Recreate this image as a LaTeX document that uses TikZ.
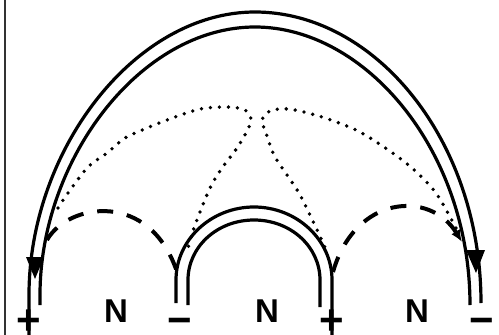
\documentclass[tikz,border=0pt]{standalone}
\usepackage{fontspec}
\setmainfont{Liberation Sans}
\usetikzlibrary{arrows.meta}
\newcommand{\nodepth}[1]{\raisebox{0pt}[\height][0pt]{#1}}
\begin{document}
\begin{tikzpicture}[x=1pt,y=-1pt,
  fieldline/.style={line width=3.2pt},
  dashline/.style={line width=4pt, dash pattern=on 16pt off 14pt},
  dotline/.style={line width=3.8pt, line cap=round, dash pattern=on 0pt off 9pt},
  lbl/.style={font=\fontsize{33}{33}\selectfont\bfseries, inner sep=0pt},
  sign/.style={font=\fontsize{42}{42}\selectfont\bfseries, inner sep=0pt, anchor=base},
  frame/.style={line width=1.5pt, black!80}]
\useasboundingbox (0,0) rectangle (499,335);
% frame fragment at left edge
\draw[frame] (5,0) -- (5,335);
% electrodes
\coordinate (e1) at (29,335);
\coordinate (e3) at (332,335);
% big double arch
\draw[fieldline] (e1) -- (29,295) .. controls (29,150) and (135,12) .. (255,12) .. controls (375,12) and (481,140) .. (481,303);
\draw[fieldline] (40,305) -- (40,295) .. controls (40,160) and (140,27) .. (255,27) .. controls (365,27) and (470,150) .. (470,305);
\fill (26,257) -- (44,257) -- (35,279) -- cycle;
\fill (466,250) -- (485,250) -- (476,273) -- cycle;
% small double arch
\draw[fieldline] (176,303) -- (176,280) .. controls (176,240) and (211,207) .. (254,207) .. controls (297,207) and (332,240) .. (332,280) -- (e3);
\draw[fieldline] (188,305) -- (188,280) .. controls (188,247) and (217,220) .. (254,220) .. controls (291,220) and (320,247) .. (320,280) -- (320,307);
% dashed arcs
\draw[dashline] (47,240) .. controls (68,203) and (150,190) .. (177,272);
\draw[dashline, -{Latex[length=12pt,width=10pt]}] (333,272) .. controls (355,195) and (430,190) .. (462,242);
% dotted loops
\draw[dotline] plot[smooth] coordinates {(58,208) (68,193) (88,167) (107,153) (125,138) (147,128) (167,120) (200,109) (228,107) (245,110) (251,119) (248,129) (237,148) (222,168) (211,186) (202,207) (194,228) (188,248)};
\draw[dotline] plot[smooth] coordinates {(456,228) (436,193) (412,168) (384,147) (356,130) (322,117) (289,109) (270,111) (262,120) (266,133) (274,155) (287,175) (299,193) (310,215) (318,232) (327,252)};
% signs
\node[sign] (p1) at (29,334) {\nodepth{+}};
\node[sign] (m1) at (180,334) {\nodepth{−}};
\node[sign] (p2) at (332,334) {\nodepth{+}};
\node[sign] (m2) at (482,334) {\nodepth{−}};
% labels
\node[lbl] (n1) at (116,311) {N};
\node[lbl] (n2) at (267,311) {N};
\node[lbl] (n3) at (417,311) {N};
\end{tikzpicture}
\end{document}
